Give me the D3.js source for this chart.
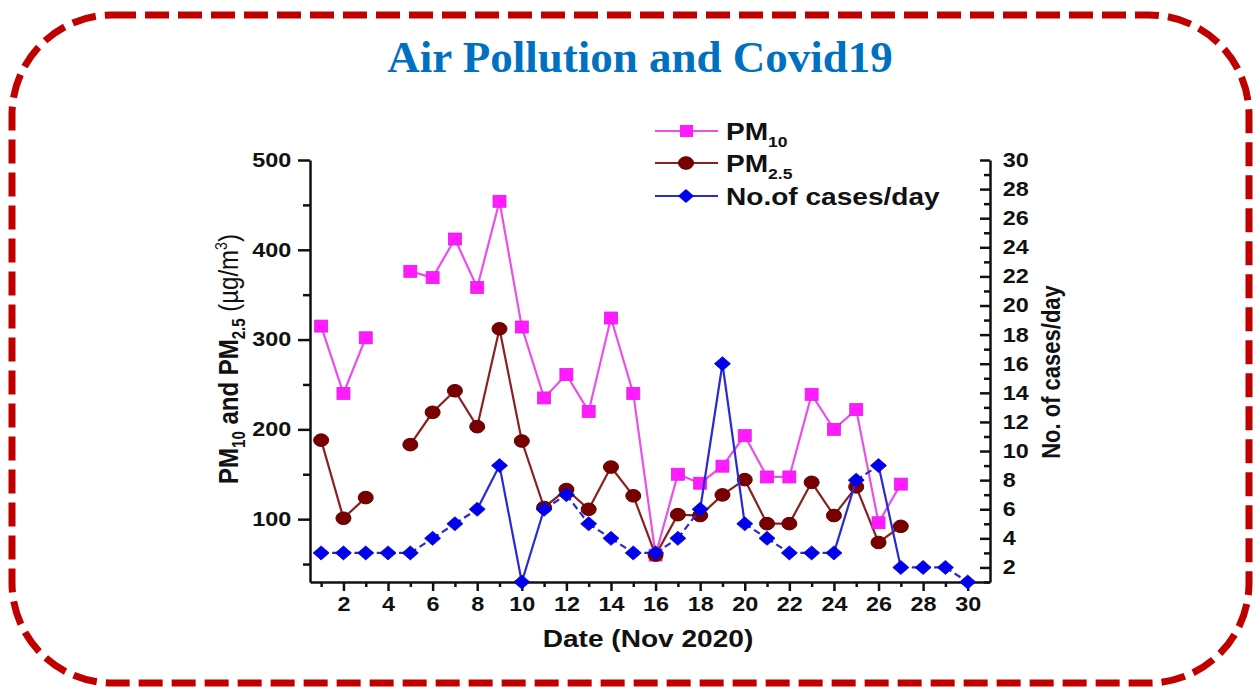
<!DOCTYPE html>
<html><head><meta charset="utf-8">
<script src="https://cdn.jsdelivr.net/npm/d3@7"></script>
<style>
body{margin:0;background:#fff}
text{font-family:Arial,"Liberation Sans",sans-serif;font-weight:bold;fill:#111}
</style>
</head><body>
<svg id="c" width="1259" height="690"></svg>
<script>
// ---- data ----
const days = [1,2,3,4,5,6,7,8,9,10,11,12,13,14,15,16,17,18,19,20,21,22,23,24,25,26,27,28,29,30];
const pm10 = [315,240,302,null,376,369,412,358,454,314,235,261,220,324,240,60,150,140,159,193,147,147,239,200,222,96,139];
const pm25 = [188,101,124,null,183,219,243,203,312,187,113,133,111,158,126,60,105,104,127,144,95,95,141,104,136,74,92];
const cases = [3,3,3,3,3,4,5,6,9,1,6,7,5,4,3,3,4,6,16,5,4,3,3,3,8,9,2,2,2,1];
const xTicks = [2,4,6,8,10,12,14,16,18,20,22,24,26,28,30];
const xMinor = [1,3,5,7,9,11,13,15,17,19,21,23,25,27,29];
const yLTicks = [100,200,300,400,500];
const yLMinor = [50,150,250,350,450];
const yRTicks = [2,4,6,8,10,12,14,16,18,20,22,24,26,28,30];
const yRMinor = [1,3,5,7,9,11,13,15,17,19,21,23,25,27,29];

const K = 1.17; // horizontal glyph stretch seen in the reference
const svg = d3.select('#c');

// border
svg.append('rect').attr('x',12).attr('y',15).attr('width',1237).attr('height',668)
  .attr('rx',100).attr('ry',100).attr('fill','none')
  .attr('stroke','#C00000').attr('stroke-width',7).attr('stroke-dasharray','24 9');

// title
svg.append('text').attr('x',640).attr('y',72).attr('text-anchor','middle')
  .style('font-family','"Liberation Serif","Times New Roman",serif').style('font-size','45px')
  .style('fill','#0070C0').text('Air Pollution and Covid19');

const X0=310, X1=990, Y0=582, Y1=160;
const x = d3.scaleLinear().domain([0.5,31]).range([X0,X1]);
const yL = d3.scaleLinear().domain([30,500]).range([Y0,Y1]);
const yR = d3.scaleLinear().domain([1,30]).range([Y0,Y1]);

function stretch(sel){ sel.attr('transform',`scale(${K},1)`); }
function styleAxis(g){
  g.selectAll('path.domain').attr('stroke','#111').attr('stroke-width',2.5);
  g.selectAll('.tick line').attr('stroke','#111').attr('stroke-width',2.5);
  g.selectAll('.tick text').style('font-size','20px').style('font-family','Arial,"Liberation Sans",sans-serif').style('font-weight','bold').attr('fill','#111');
}

// axes
const gx = svg.append('g').attr('transform',`translate(0,${Y0})`)
  .call(d3.axisBottom(x).tickValues(xTicks).tickSize(9).tickSizeOuter(0).tickPadding(6));
styleAxis(gx); stretch(gx.selectAll('.tick text'));
const gxm = svg.append('g').attr('transform',`translate(0,${Y0})`)
  .call(d3.axisBottom(x).tickValues(xMinor).tickSize(5).tickSizeOuter(0).tickFormat(''));
styleAxis(gxm); gxm.select('path.domain').remove();

const gl = svg.append('g').attr('transform',`translate(${X0},0)`)
  .call(d3.axisLeft(yL).tickValues(yLTicks).tickSize(12).tickSizeOuter(0).tickPadding(4));
styleAxis(gl); stretch(gl.selectAll('.tick text'));
const glm = svg.append('g').attr('transform',`translate(${X0},0)`)
  .call(d3.axisLeft(yL).tickValues(yLMinor).tickSize(7).tickSizeOuter(0).tickFormat(''));
styleAxis(glm); glm.select('path.domain').remove();

const gr = svg.append('g').attr('transform',`translate(${X1},0)`)
  .call(d3.axisRight(yR).tickValues(yRTicks).tickSize(-10).tickSizeOuter(0).tickPadding(11));
styleAxis(gr); stretch(gr.selectAll('.tick text'));
const grm = svg.append('g').attr('transform',`translate(${X1},0)`)
  .call(d3.axisRight(yR).tickValues(yRMinor).tickSize(-6).tickSizeOuter(0).tickFormat(''));
styleAxis(grm); grm.select('path.domain').remove();

// axis titles
svg.append('text').attr('text-anchor','middle').style('font-size','24px')
  .attr('transform',`translate(648,647) scale(${K},1)`).text('Date (Nov 2020)');

const lt = svg.append('text').attr('text-anchor','middle').style('font-size','24px')
  .attr('transform',`translate(238,359) scale(${K},1) rotate(-90)`);
lt.append('tspan').text('PM');
lt.append('tspan').attr('dy',6).style('font-size','15px').text('10');
lt.append('tspan').attr('dy',-6).text(' and PM');
lt.append('tspan').attr('dy',6).style('font-size','15px').text('2.5');
lt.append('tspan').attr('dy',-6).style('font-weight','normal').text(' (µg/m');
lt.append('tspan').attr('dy',-9).style('font-size','14px').style('font-weight','normal').text('3');
lt.append('tspan').attr('dy',9).style('font-weight','normal').text(')');

svg.append('text').attr('text-anchor','middle').style('font-size','22px')
  .attr('transform',`translate(1060,372) scale(${K},1) rotate(-90)`).text('No. of cases/day');

// series
const pmDays = days.slice(0, pm10.length);
const P10 = pmDays.map((d,i)=>({d, v:pm10[i]}));
const P25 = pmDays.map((d,i)=>({d, v:pm25[i]}));
const C = days.map((d,i)=>({d, v:cases[i]}));

const lineL = d3.line().defined(p=>p.v!=null).x(p=>x(p.d)).y(p=>yL(p.v));
const COL10='#ff1aff', LINE10='#e850e8', COL25='#7a0000', LINE25='#8b2020', COLC='#0000ee', LINEC='#2a2ad0';

svg.append('path').datum(P10).attr('d',lineL).attr('fill','none').attr('stroke',LINE10).attr('stroke-width',2.2);
svg.append('path').datum(P25).attr('d',lineL).attr('fill','none').attr('stroke',LINE25).attr('stroke-width',2.2);

svg.append('g').selectAll('rect').data(P10.filter(p=>p.v!=null)).join('rect')
  .attr('x',p=>x(p.d)-6.5).attr('y',p=>yL(p.v)-6).attr('width',13).attr('height',12)
  .attr('fill',COL10).attr('stroke','#e020e0').attr('stroke-width',0.8);
svg.append('g').selectAll('ellipse').data(P25.filter(p=>p.v!=null)).join('ellipse')
  .attr('cx',p=>x(p.d)).attr('cy',p=>yL(p.v)).attr('rx',7.5).attr('ry',6.3)
  .attr('fill',COL25).attr('stroke','#5a0000').attr('stroke-width',1);

// cases line: segment by segment (steep rises/falls drawn solid, gentle ones dashed)
const segs = d3.pairs(C);
svg.append('g').selectAll('line').data(segs).join('line')
  .attr('x1',s=>x(s[0].d)).attr('y1',s=>yR(s[0].v)).attr('x2',s=>x(s[1].d)).attr('y2',s=>yR(s[1].v))
  .attr('stroke',LINEC).attr('stroke-width',2.2)
  .attr('stroke-dasharray',s=>Math.abs(s[1].v-s[0].v)>=3?null:'7 4');
const diamond = (cx,cy)=>`M${cx},${cy-7}L${cx+8},${cy}L${cx},${cy+7}L${cx-8},${cy}Z`;
svg.append('g').selectAll('path').data(C).join('path')
  .attr('d',p=>diamond(x(p.d),yR(p.v))).attr('fill',COLC).attr('stroke','#0000cc').attr('stroke-width',0.8);

// legend
const leg = [
  {name:'PM', sub:'10', y:131, type:'sq'},
  {name:'PM', sub:'2.5', y:163, type:'ci'},
  {name:'No.of cases/day', sub:null, y:196, type:'di'}
];
const lg = svg.append('g');
leg.forEach(L=>{
  const col = L.type==='sq'?LINE10:L.type==='ci'?LINE25:LINEC;
  lg.append('line').attr('x1',655).attr('x2',718).attr('y1',L.y).attr('y2',L.y).attr('stroke',col).attr('stroke-width',2.2);
  if(L.type==='sq') lg.append('rect').attr('x',680).attr('y',L.y-6).attr('width',13).attr('height',12).attr('fill',COL10);
  if(L.type==='ci') lg.append('ellipse').attr('cx',686).attr('cy',L.y).attr('rx',7.5).attr('ry',6.3).attr('fill',COL25).attr('stroke','#5a0000');
  if(L.type==='di') lg.append('path').attr('d',diamond(686,L.y)).attr('fill',COLC);
  const t = lg.append('text').style('font-size','24px').attr('transform',`translate(726,${L.y+9}) scale(${K},1)`);
  t.append('tspan').text(L.name);
  if(L.sub) t.append('tspan').attr('dy',7).style('font-size','15px').text(L.sub);
});
</script>
</body></html>
